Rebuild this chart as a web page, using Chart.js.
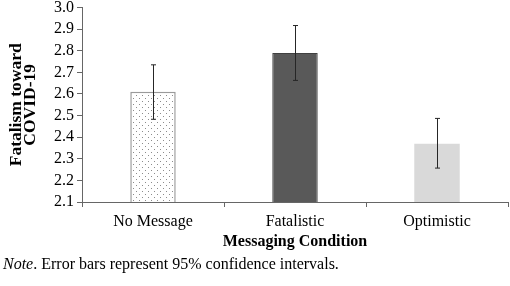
<!DOCTYPE html>
<html>
<head>
<meta charset="utf-8">
<script src="https://cdn.jsdelivr.net/npm/chart.js@4.4.0/dist/chart.umd.min.js"></script>
<style>
  html, body { margin: 0; padding: 0; background: #fff; overflow: hidden; }
  #wrap { position: relative; width: 510px; height: 286px; overflow: hidden; }
  #chart { position: absolute; left: 0; top: -5px; }
  #note {
    position: absolute; left: 3px; top: 255px;
    font-family: "Liberation Serif", "Times New Roman", serif;
    font-size: 16px; color: #000;
  }
</style>
</head>
<body>
<div id="wrap">
  <canvas id="chart" width="510" height="291"></canvas>
  <div id="note"><i>Note</i>. Error bars represent 95% confidence intervals.</div>
</div>
<script>
const categories = ['No Message', 'Fatalistic', 'Optimistic'];
const means = [2.61, 2.79, 2.37];
const ciLow = [2.483, 2.663, 2.257];
const ciHigh = [2.735, 2.917, 2.487];
const yTicks = [2.1, 2.2, 2.3, 2.4, 2.5, 2.6, 2.7, 2.8, 2.9, 3.0];

const serif = '"Liberation Serif", "Times New Roman", serif';

function dotPattern() {
    const c = document.createElement('canvas');
    c.width = 6; c.height = 6;
    const g = c.getContext('2d');
    g.fillStyle = '#ffffff';
    g.fillRect(0, 0, 6, 6);
    g.fillStyle = '#8c8c8c';
    g.fillRect(1, 1, 1, 1);
    g.fillRect(4, 4, 1, 1);
    return g.createPattern(c, 'repeat');
}

// draws the confidence interval whiskers on top of each bar
const errorBars = {
    id: 'errorBars',
    afterDatasetsDraw(chart) {
        const ctx = chart.ctx;
        const meta = chart.getDatasetMeta(0);
        const y = chart.scales.y;
        ctx.save();
        ctx.strokeStyle = '#262626';
        ctx.lineWidth = 1;
        meta.data.forEach((bar, i) => {
            const x = Math.round(bar.x) + 0.5;
            const top = y.getPixelForValue(ciHigh[i]);
            const bot = y.getPixelForValue(ciLow[i]);
            ctx.beginPath();
            ctx.moveTo(x, top); ctx.lineTo(x, bot);
            ctx.moveTo(x - 2.5, top); ctx.lineTo(x + 2.5, top);
            ctx.moveTo(x - 2.5, bot); ctx.lineTo(x + 2.5, bot);
            ctx.stroke();
        });
        ctx.restore();
    }
};

new Chart(document.getElementById('chart'), {
    type: 'bar',
    data: {
        labels: categories,
        datasets: [{
            data: means,
            backgroundColor: [dotPattern(), '#595959', '#d9d9d9'],
            borderColor: ['#9a9a9a', '#404040', '#d9d9d9'],
            borderWidth: [1.5, 1, 0],
            categoryPercentage: 1,
            barPercentage: 0.32
        }]
    },
    options: {
        responsive: false,
        animation: false,
        layout: { padding: { top: 0, right: 2, bottom: 35, left: 9 } },
        plugins: {
            legend: { display: false },
            tooltip: { enabled: false }
        },
        scales: {
            x: {
                afterFit: (s) => { s.height = 49; },
                grid: { offset: true, drawOnChartArea: false, drawTicks: true, tickLength: 5, color: '#666' },
                border: { color: '#666', width: 1 },
                ticks: { color: '#000', font: { family: serif, size: 16 }, padding: 5 },
                title: {
                    display: true, text: 'Messaging Condition', color: '#000',
                    font: { family: serif, size: 16, weight: 'bold' }, padding: { top: 0, bottom: 0 }
                }
            },
            y: {
                min: 2.1, max: 3.0,
                afterBuildTicks: (s) => { s.ticks = yTicks.map(v => ({ value: v })); },
                afterFit: (s) => { s.width = 73; },
                grid: { drawOnChartArea: false, drawTicks: true, tickLength: 5, color: '#666' },
                border: { color: '#666', width: 1 },
                ticks: {
                    color: '#000', font: { family: serif, size: 16 }, padding: 3, autoSkip: false,
                    callback: (v) => Number(v).toFixed(1)
                },
                title: {
                    display: true, text: ['Fatalism toward', 'COVID-19'], color: '#000',
                    font: { family: serif, size: 17.5, weight: 'bold', lineHeight: 0.8 }, padding: { top: 0, bottom: 4 }
                }
            }
        }
    },
    plugins: [errorBars]
});
</script>
</body>
</html>
